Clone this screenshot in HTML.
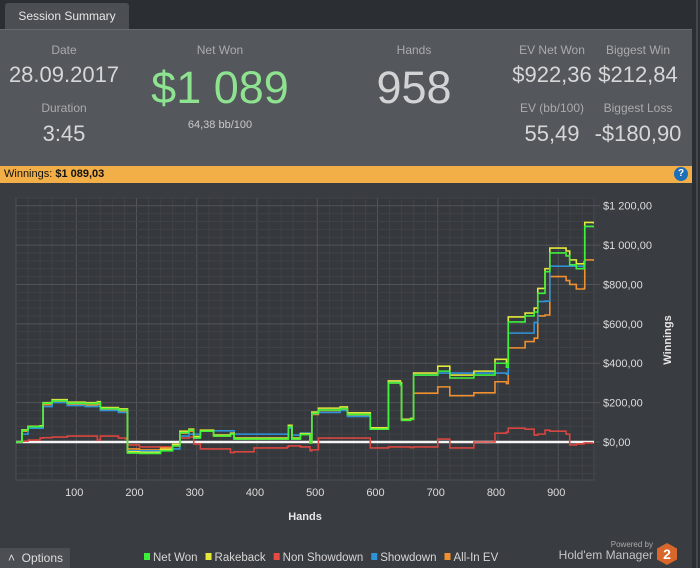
<!DOCTYPE html>
<html><head><meta charset="utf-8"><style>
*{margin:0;padding:0;box-sizing:border-box}
body{width:700px;height:568px;background:#2b2e32;font-family:"Liberation Sans",sans-serif;position:relative;overflow:hidden}
.abs{position:absolute}
.lbl{color:#a9abae;font-size:12px;text-align:center;width:120px}
.val{color:#d6d7d8;font-size:22px;text-align:center;width:140px}
</style></head><body>
<div class="abs" style="left:5px;top:3px;width:124px;height:27px;background:#4b4e53;border-radius:3px 3px 0 0;color:#e6e6e6;font-size:12px;line-height:26px;text-align:center">Session Summary</div>
<div class="abs" style="left:0;top:29px;width:692px;height:137px;background:#54575b;border-top:1px solid #66696d">
  <div class="abs lbl" style="left:4px;top:13px">Date</div>
  <div class="abs val" style="left:-6px;top:32px">28.09.2017</div>
  <div class="abs lbl" style="left:4px;top:71px">Duration</div>
  <div class="abs val" style="left:-6px;top:91px">3:45</div>
  <div class="abs lbl" style="left:160px;top:13px">Net Won</div>
  <div class="abs" style="left:120px;top:32px;width:200px;text-align:center;color:#8de38f;font-size:45px">$1 089</div>
  <div class="abs" style="left:160px;top:89px;width:120px;text-align:center;color:#c8c9ca;font-size:11px">64,38 bb/100</div>
  <div class="abs lbl" style="left:354px;top:13px">Hands</div>
  <div class="abs" style="left:334px;top:32px;width:160px;text-align:center;color:#d2d3d4;font-size:45px">958</div>
  <div class="abs lbl" style="left:492px;top:13px">EV Net Won</div>
  <div class="abs val" style="left:482px;top:32px">$922,36</div>
  <div class="abs lbl" style="left:578px;top:13px">Biggest Win</div>
  <div class="abs val" style="left:568px;top:32px">$212,84</div>
  <div class="abs lbl" style="left:492px;top:71px">EV (bb/100)</div>
  <div class="abs val" style="left:482px;top:91px">55,49</div>
  <div class="abs lbl" style="left:578px;top:71px">Biggest Loss</div>
  <div class="abs val" style="left:568px;top:91px">-$180,90</div>
</div>
<div class="abs" style="left:0;top:166px;width:692px;height:17px;background:#f2ae47;font-size:11px;line-height:17px;padding-left:4px;color:#111">Winnings: <b>$1 089,03</b></div>
<div class="abs" style="left:674px;top:167px;width:14px;height:14px;border-radius:50%;background:#1f6fb8;color:#fff;font-size:10px;font-weight:bold;text-align:center;line-height:14px">?</div>
<div class="abs" style="left:0;top:183px;width:692px;height:385px;background:#393c40"></div>
<div class="abs" style="left:696px;top:0;width:2px;height:568px;background:#45484c"></div>
<svg class="abs" id="chart" style="left:0;top:0" width="700" height="568"></svg>
<div class="abs" style="left:0;top:548px;width:70px;height:20px;background:#4b4e53;color:#ddd;font-size:12px;line-height:20px;padding-left:8px">&#708;&nbsp;&nbsp;Options</div>
<div class="abs" style="left:560px;top:540px;width:93px;text-align:right;color:#aaa;font-size:8px">Powered by</div>
<div class="abs" style="left:540px;top:548px;width:113px;text-align:right;color:#c4c5c6;font-size:12px">Hold'em Manager</div>
<div class="abs" style="left:657px;top:543px;width:20px;height:22px;background:#d9662a;clip-path:polygon(50% 0,100% 25%,100% 75%,50% 100%,0 75%,0 25%);color:#fff;font-weight:bold;font-size:14px;text-align:center;line-height:22px">2</div>
<script>
const hands=[0,10,20,40,45,60,85,115,135,140,170,182,185,205,240,260,272,287,295,306,328,356,362,395,450,452,458,472,488,491,502,538,550,588,615,618,638,640,655,660,700,720,760,795,814,817,845,860,866,878,886,913,919,930,943,944,958];
const netWon=[0,60,78,78,197,210,197,195,200,170,163,163,-56,-58,-45,-20,48,60,20,55,30,40,15,15,15,78,15,38,-5,146,163,170,140,65,65,300,290,110,115,340,360,325,340,400,380,610,640,660,755,865,960,945,900,880,900,1095,1090];
const rakeback=[0,62,80,82,200,215,202,200,205,175,168,168,-50,-52,-38,-12,55,65,28,60,35,45,20,20,20,85,20,42,0,152,172,178,148,72,70,310,300,115,120,350,385,340,360,420,400,635,655,680,780,880,985,970,925,905,915,1115,1110];
const nonShowdown=[0,5,10,20,22,25,30,30,10,30,20,15,-15,-25,-25,-20,20,25,-10,-35,-35,-54,-50,-30,-25,-20,-20,-25,-45,-40,20,20,20,-30,-30,-25,-25,-25,-28,-25,15,-30,0,45,50,70,65,35,40,60,55,40,-15,-10,-5,-5,-5];
const showdown=[0,40,70,70,180,200,185,180,182,160,150,150,-45,-45,-40,-35,30,40,40,57,57,57,40,40,40,70,35,45,35,145,150,160,130,70,72,305,290,115,120,340,350,350,350,350,345,553,553,607,713,715,893,893,893,893,893,1095,1090];
const allInEV=[0,55,75,75,190,205,190,187,192,165,158,158,-35,-40,-30,-15,45,55,25,55,30,40,15,15,15,75,15,38,-5,140,160,165,135,65,65,300,290,110,115,248,280,235,250,306,297,478,510,527,640,645,840,820,800,777,780,925,920];
const xTicks=[100,200,300,400,500,600,700,800,900];
const yTicks=[0,200,400,600,800,1000,1200];
const yTickLabels=["$0,00","$200,00","$400,00","$600,00","$800,00","$1 000,00","$1 200,00"];
const legendNames=["Net Won","Rakeback","Non Showdown","Showdown","All-In EV"];

const NS="http://www.w3.org/2000/svg";
const svg=document.getElementById('chart');
const PL=16,PR=594,PT=198,PB=480;
const X=h=>16+h*0.6025;
const Y=v=>442-v*0.1969;
function mk(t,a){const e=document.createElementNS(NS,t);for(const k in a)e.setAttribute(k,a[k]);svg.appendChild(e);return e;}
const bg=mk('rect',{x:PL,y:PT,width:PR-PL,height:PB-PT,fill:'#35383c',stroke:'#4d5054'});


for(let h=20;h<=960;h+=20){const l=mk('line',{x1:X(h),x2:X(h),y1:PT,y2:PB+(h%100?3:0),stroke:h%100?'#3f4246':'#505357','stroke-width':1});

}
for(let v=-160;v<=1240;v+=40){const l=mk('line',{x1:PL,x2:PR+(v%200?3:6),y1:Y(v),y2:Y(v),stroke:v%200?'#3f4246':'#505357','stroke-width':1});

}
xTicks.forEach(t=>{const e=mk('text',{x:X(t)-2,y:496,'font-size':11,fill:'#dcdcdc','text-anchor':'middle'});e.textContent=t;

});
yTicks.forEach((t,i)=>{const e=mk('text',{x:603,y:Y(t)+4,'font-size':11,fill:'#dcdcdc'});e.textContent=yTickLabels[i];

});
const xt=mk('text',{x:305,y:520,'font-size':11,'font-weight':'bold',fill:'#e6e6e6','text-anchor':'middle'});xt.textContent='Hands';


const yt=mk('text',{x:671,y:340,'font-size':11,'font-weight':'bold',fill:'#e6e6e6','text-anchor':'middle',transform:'rotate(-90 671 340)'});yt.textContent='Winnings';


const zl=mk('line',{x1:PL,x2:PR,y1:Y(0),y2:Y(0),stroke:'#f4f4f4','stroke-width':2.5});


const series=[[nonShowdown,'#d9453f','non-showdown-line'],[allInEV,'#f0902e','all-in-ev-line'],[showdown,'#2f93d8','showdown-line'],[rakeback,'#e4e83a','rakeback-line'],[netWon,'#3ff03a','net-won-line']];
series.forEach(([d,c,n])=>{
  const pts=[];
  hands.forEach((h,i)=>{ if(i>0) pts.push(X(h)+','+Y(d[i-1])); pts.push(X(h)+','+Y(d[i])); });
  const p=mk('polyline',{points:pts.join(' '),fill:'none',stroke:c,'stroke-width':1.6});

});
const legColors=['#3ff03a','#e4e83a','#e84a44','#2f93d8','#f0902e'];
let lx=144;
legendNames.forEach((n,i)=>{const r=mk('rect',{x:lx,y:553,width:6,height:7,fill:legColors[i]});


const t=mk('text',{x:lx+9,y:561,'font-size':11.5,fill:'#d6d6d6'});t.textContent=n;


lx+=9+t.getComputedTextLength()+8;});
</script>
</body></html>
